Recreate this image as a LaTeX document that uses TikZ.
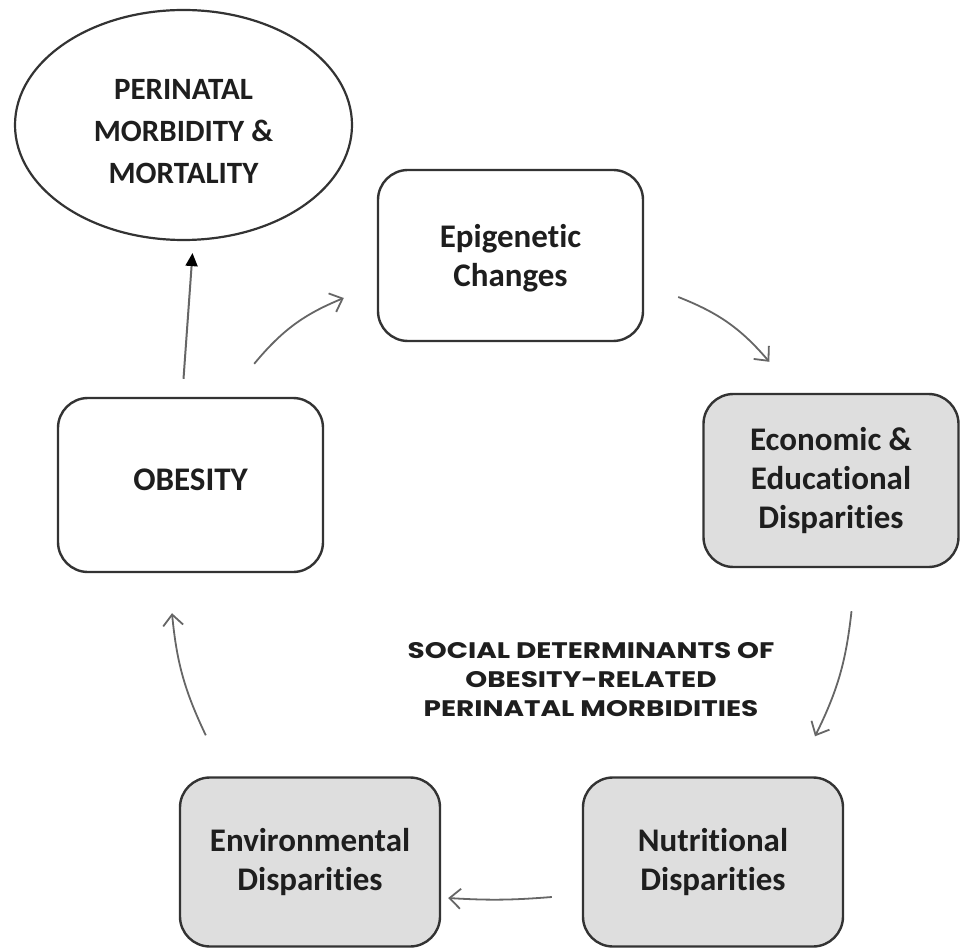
\documentclass[tikz,border=0pt]{standalone}
\usepackage{fontspec}
\setmainfont{Carlito}[Ligatures={NoCommon,NoRare,NoContextual}]
\newfontfamily\socfont{Poppins}[FakeStretch=1.24]
\usetikzlibrary{arrows.meta,shapes.geometric}
\definecolor{boxline}{HTML}{333333}
\definecolor{boxfill}{HTML}{DEDEDE}
\definecolor{arrgray}{HTML}{666666}
\definecolor{txt}{HTML}{1E1E1E}
\begin{document}
\begin{tikzpicture}[x=1pt,y=-1pt,
  stepbox/.style={draw=boxline,line width=2.4pt,rounded corners=30pt,
    align=center,text=txt,font=\fontsize{33}{39}\selectfont\bfseries,inner sep=0pt},
  whitebox/.style={stepbox,fill=white},
  graybox/.style={stepbox,fill=boxfill},
  outcome/.style={draw=boxline,line width=2.2pt,ellipse,inner sep=0pt,align=center,
    text=txt,font=\fontsize{31}{42}\selectfont\bfseries},
  flow/.style={draw=arrgray,line width=1.8pt,-{Straight Barb[length=11pt,width=20pt,line width=1.8pt]}},
  lead/.style={draw=arrgray,line width=2pt,-{Triangle[length=13pt,width=12pt,fill=black,color=black]}},
  socl/.style={align=center,text=txt,font=\socfont\bfseries\fontsize{22.5}{29}\selectfont}
  ]
\useasboundingbox (0,0) rectangle (961,949);
\node[outcome,minimum width=337pt,minimum height=230pt] (ell) at (183.5,125)
  {\raisebox{-8pt}[\height][\depth]{\begin{tabular}{@{}c@{}}PERINATAL\\MORBIDITY \&\\MORTALITY\end{tabular}}};
\node[whitebox,minimum width=265pt,minimum height=171pt] (epi) at (510.5,255.5)
  {\raisebox{-4pt}[\height][\depth]{\begin{tabular}{@{}c@{}}Epigenetic\\Changes\end{tabular}}};
\node[whitebox,minimum width=265pt,minimum height=174pt] (obes) at (190.5,485)
  {\raisebox{5pt}[\height][\depth]{OBESITY}};
\node[graybox,minimum width=255pt,minimum height=173pt] (econ) at (831,480.5)
  {Economic \&\\Educational\\Disparities};
\node[graybox,minimum width=260pt,minimum height=169pt] (env) at (310,862)
  {Environmental\\Disparities};
\node[graybox,minimum width=260pt,minimum height=169pt] (nut) at (713,862)
  {Nutritional\\Disparities};
\node[socl] (soc) at (591,680)
  {SOCIAL DETERMINANTS OF\\OBESITY-RELATED\\PERINATAL MORBIDITIES};
\draw[lead] ([shift={(-7,-18)}]obes.north) -- ([shift={(9,12)}]ell.south);
\draw[flow] ([shift={(-70,-33)}]obes.north east) to[bend left=14] ([shift={(-33,42.5)}]epi.west);
\draw[flow] ([shift={(34,41.5)}]epi.east) to[bend left=14] ([shift={(67,-31)}]econ.north west);
\draw[flow] ([shift={(20.5,43)}]econ.south) to[bend left=10] ([shift={(102,-40)}]nut.north);
\draw[flow] ([shift={(-30,35)}]nut.west) to[bend left=4] ([shift={(7,36)}]env.east);
\draw[flow] ([shift={(27,-41)}]env.north west) to[bend left=10] ([shift={(-18.5,40)}]obes.south);
\end{tikzpicture}
\end{document}
